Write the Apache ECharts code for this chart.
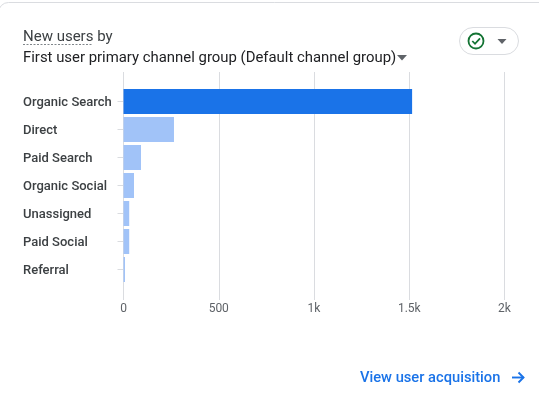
<!DOCTYPE html>
<html><head><meta charset="utf-8">
<style>html,body{margin:0;padding:0;background:#fff}#c{width:539px;height:400px}</style>
<script src="https://cdn.jsdelivr.net/npm/echarts@6/dist/echarts.min.js"></script></head>
<body><div id="c"></div>
<script>
const categories = ['Organic Search','Direct','Paid Search','Organic Social','Unassigned','Paid Social','Referral'];
const newUsers = [1515, 265, 92, 55, 30, 30, 8];
const barColors = ['#1a73e8','#a1c3f8','#a1c3f8','#a1c3f8','#a1c3f8','#a1c3f8','#a1c3f8'];
const tickLabels = {0:'0',500:'500',1000:'1k',1500:'1.5k',2000:'2k'};
const font = 'Roboto, sans-serif';
const chart = echarts.init(document.getElementById('c'), null, {renderer:'canvas'});
chart.setOption({
  animation:false,
  backgroundColor:'#fff',
  title:[
    {text:'New users by',left:23,top:30,padding:0,textStyle:{fontFamily:font,fontSize:15,fontWeight:400,color:'#3c4043'}},
    {text:'First user primary channel group (Default channel group)',left:23,top:51,padding:0,textStyle:{fontFamily:font,fontSize:14.9,fontWeight:400,color:'#202124'}},
    {text:'View user acquisition',left:360,top:371,padding:0,textStyle:{fontFamily:font,fontSize:14.7,fontWeight:500,color:'#1a73e8'}}
  ],
  grid:[
    {left:123.5,width:381,top:72,height:228},
    {left:123.5,width:381,top:87.5,height:196}
  ],
  xAxis:[
    {gridIndex:0,type:'value',min:0,max:2000,interval:500,position:'bottom',
     axisLine:{show:false},axisTick:{show:false},
     splitLine:{show:true,lineStyle:{color:'#dadce0',width:1}},
     axisLabel:{margin:3,fontFamily:font,fontSize:12,color:'#5f6368',hideOverlap:false,formatter:v=>tickLabels[v]}},
    {gridIndex:1,type:'value',min:0,max:2000,interval:500,show:false}
  ],
  yAxis:[
    {gridIndex:0,type:'value',show:false},
    {gridIndex:1,type:'category',inverse:true,data:categories,
     axisLine:{show:false},
     axisTick:{show:true,alignWithLabel:true,length:6,lineStyle:{color:'#dadce0'}},
     axisLabel:{margin:100.5,align:'left',verticalAlign:'top',lineHeight:2,fontFamily:font,fontSize:13,fontWeight:500,color:'#3c4043'}}
  ],
  series:[{
    type:'bar',xAxisIndex:1,yAxisIndex:1,barWidth:25,
    data:newUsers.map((v,i)=>({value:v,itemStyle:{color:barColors[i]}}))
  }],
  graphic:[
    {type:'rect',z:-1,shape:{x:-1.5,y:2.5,width:600,height:500,r:10},style:{fill:'#fff',stroke:'#dadce0',lineWidth:1}},
    {type:'line',shape:{x1:23,y1:44.5,x2:92,y2:44.5},style:{stroke:'#80868b',lineWidth:1,lineDash:[2,1.5]}},
    {type:'polygon',shape:{points:[[397,55],[407,55],[402,60.5]]},style:{fill:'#5f6368'}},
    {type:'rect',shape:{x:459.5,y:27.5,width:59,height:27,r:13.5},style:{fill:'#fff',stroke:'#dadce0',lineWidth:1}},
    {type:'circle',shape:{cx:476,cy:41,r:7.5},style:{fill:'none',stroke:'#137333',lineWidth:1.8}},
    {type:'polyline',shape:{points:[[472.3,41],[475,43.8],[480,38.3]]},style:{fill:'none',stroke:'#137333',lineWidth:1.8}},
    {type:'polygon',shape:{points:[[497.5,39],[506.5,39],[502,44]]},style:{fill:'#5f6368'}},
    {type:'polyline',shape:{points:[[512,377.5],[523.5,377.5]]},style:{fill:'none',stroke:'#1a73e8',lineWidth:1.9}},
    {type:'polyline',shape:{points:[[518.5,372.5],[523.5,377.5],[518.5,382.5]]},style:{fill:'none',stroke:'#1a73e8',lineWidth:1.9}}
  ]
});
</script></body></html>
